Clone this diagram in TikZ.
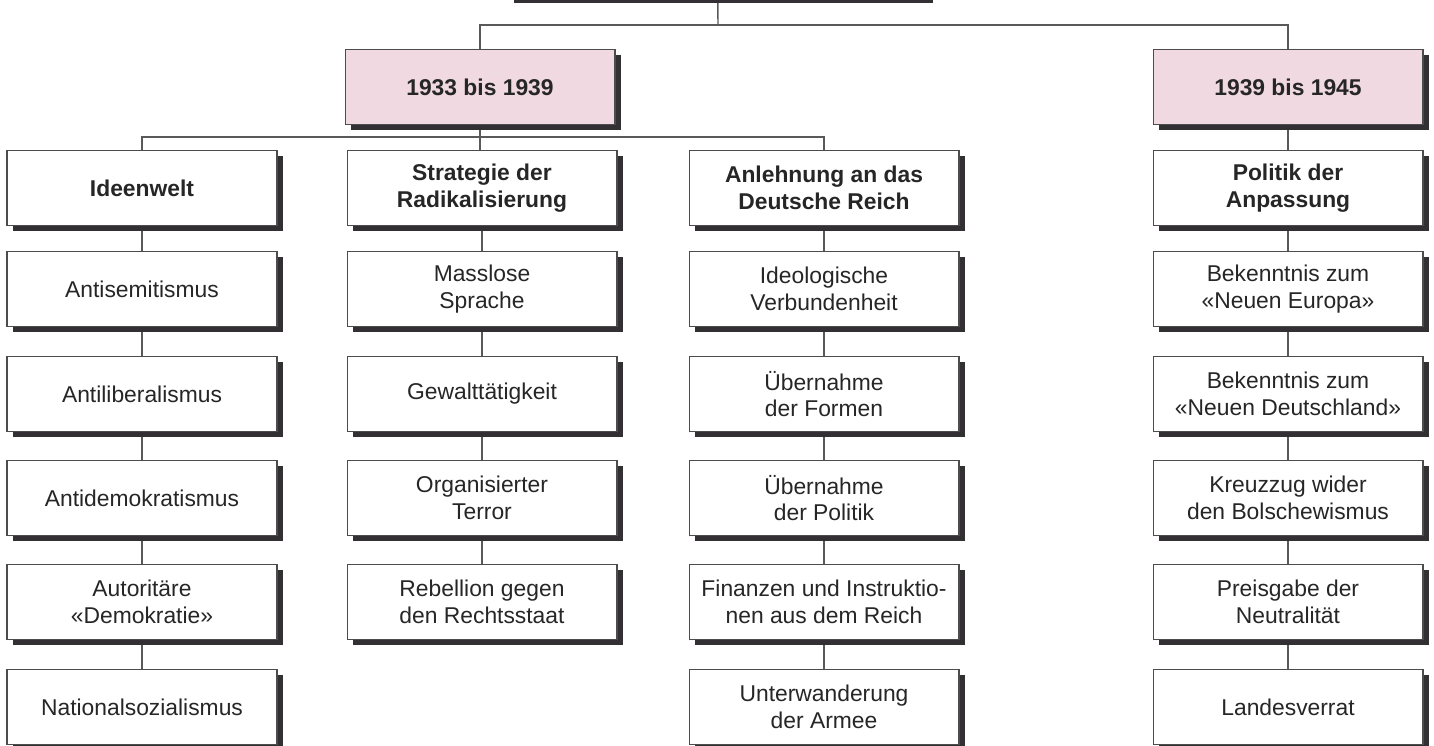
\documentclass[tikz,border=0pt]{standalone}
\usepackage{fontspec}
\setmainfont{Liberation Sans}
\usetikzlibrary{shadows,backgrounds}
\definecolor{periodpink}{RGB}{240,217,225}
\definecolor{shadowgrey}{RGB}{50,48,50}
\tikzset{
  block/.style={draw=black!70, line width=0.6pt, fill=white,
    minimum width=5.4cm, minimum height=1.5cm, align=center, text=black!85,
    font=\fontsize{13}{15.2}\selectfont,
    drop shadow={shadow xshift=0.12cm, shadow yshift=-0.1cm, fill=shadowgrey, opacity=1}},
  headblock/.style={block, font=\fontsize{13}{15.2}\selectfont\bfseries},
  period/.style={headblock, fill=periodpink},
  link/.style={draw=black!65, line width=0.8pt}
}
\begin{document}
\begin{tikzpicture}[x=0.02cm, y=-0.02cm]
  \useasboundingbox (0,0) rectangle (1434,745);

  % Title (cut off at the top)
  \node[block, minimum width=8.38cm, minimum height=1.2cm] (chart) at (717.5,-32) {};

  % Periods
  \node[period] (per33) at (480,87) {1933 bis 1939};
  \node[period] (per39) at (1288,87) {1939 bis 1945};

  % Ideenwelt
  \node[headblock] (ideen) at (142,188) {Ideenwelt};
  \node[block] (antisem) at (142,289) {Antisemitismus};
  \node[block] (antilib) at (142,394) {Antiliberalismus};
  \node[block] (antidem) at (142,498) {Antidemokratismus};
  \node[block] (autorit) at (142,602) {Autoritäre\\«Demokratie»};
  \node[block] (natsoz) at (142,707) {Nationalsozialismus};

  % Strategie
  \node[headblock] (strat) at (482,188) {Strategie der\\Radikalisierung};
  \node[block] (masslos) at (482,289) {Masslose\\Sprache};
  \node[block] (gewalt) at (482,394) {Gewalttätigkeit};
  \node[block] (terror) at (482,498) {Organisierter\\Terror};
  \node[block] (rebell) at (482,602) {Rebellion gegen\\den Rechtsstaat};

  % Anlehnung
  \node[headblock] (anlehn) at (824,188) {Anlehnung an das\\Deutsche Reich};
  \node[block] (ideolog) at (824,289) {Ideologische\\Verbundenheit};
  \node[block] (uebform) at (824,394) {Übernahme\\der Formen};
  \node[block] (uebpol) at (824,498) {Übernahme\\der Politik};
  \node[block] (finanz) at (824,602) {Finanzen und Instruktio-\\nen aus dem Reich};
  \node[block] (unterw) at (824,707) {Unterwanderung\\der Armee};

  % Anpassung
  \node[headblock] (anpass) at (1288,188) {Politik der\\Anpassung};
  \node[block] (europa) at (1288,289) {Bekenntnis zum\\«Neuen Europa»};
  \node[block] (deutschl) at (1288,394) {Bekenntnis zum\\«Neuen Deutschland»};
  \node[block] (kreuzzug) at (1288,498) {Kreuzzug wider\\den Bolschewismus};
  \node[block] (neutral) at (1288,602) {Preisgabe der\\Neutralität};
  \node[block] (verrat) at (1288,707) {Landesverrat};

  \coordinate (topjoin) at (718,25);
  \coordinate (midjoin) at (480,137);

  \begin{scope}[on background layer]
    \draw[link] (chart) -- (topjoin);
    \draw[link] (per33) |- (topjoin) -| (per39);
    \draw[link] (per33) -- (midjoin);
    \draw[link] (ideen) |- (midjoin) -| (anlehn);
    \draw[link] (midjoin) -- (midjoin |- strat.north);
    \draw[link] (per39) -- (anpass);

    \draw[link] (ideen) -- (antisem) -- (antilib) -- (antidem) -- (autorit) -- (natsoz);
    \draw[link] (strat) -- (masslos) -- (gewalt) -- (terror) -- (rebell);
    \draw[link] (anlehn) -- (ideolog) -- (uebform) -- (uebpol) -- (finanz) -- (unterw);
    \draw[link] (anpass) -- (europa) -- (deutschl) -- (kreuzzug) -- (neutral) -- (verrat);
  \end{scope}
\end{tikzpicture}
\end{document}
